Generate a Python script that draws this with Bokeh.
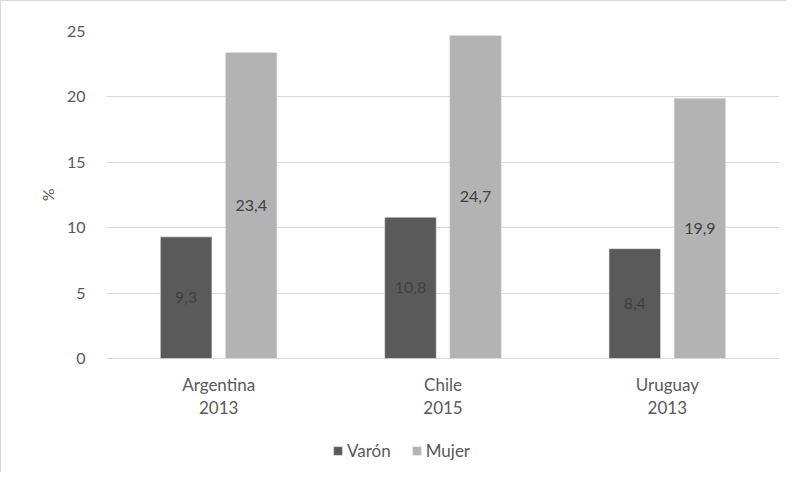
from bokeh.plotting import figure
from bokeh.models import ColumnDataSource, FactorRange, Range1d, Legend, LegendItem, FixedTicker, Title
from bokeh.transform import dodge
from bokeh.core.properties import value
from bokeh.embed import file_html
from bokeh.resources import INLINE

countries = ["Argentina", "Chile", "Uruguay"]
years = ["2013", "2015", "2013"]
varon = [9.3, 10.8, 8.4]
mujer = [23.4, 24.7, 19.9]
series_names = ["Varón", "Mujer"]
y_ticks = [0, 5, 10, 15, 20, 25]
y_title = "%"

FONT = "Lato"
FS = "16px"
FS_L = "17px"
C_V = "#5a5a5a"
C_M = "#b3b3b3"
TXT = "#595959"

src = ColumnDataSource(dict(
    x=countries,
    year=years,
    varon=varon,
    mujer=mujer,
    varon_half=[v / 2 for v in varon],
    mujer_half=[v / 2 for v in mujer],
    varon_lbl=[f"{v:.1f}".replace(".", ",") for v in varon],
    mujer_lbl=[f"{v:.1f}".replace(".", ",") for v in mujer],
))

# frame extends below the zero line so that category labels and legend sit inside it
p = figure(width=786, height=472, x_range=FactorRange(*countries, range_padding=0),
           y_range=Range1d(-8.79, 25), output_backend="svg", toolbar_location=None,
           min_border_left=105, min_border_right=8, min_border_top=30, min_border_bottom=0)
p.styles = {"border-left": "1px solid #d9d9d9", "border-top": "1px solid #d9d9d9"}
p.outline_line_color = None
p.background_fill_color = "white"
p.border_fill_color = "white"

rv = p.vbar(x=dodge("x", -0.145, range=p.x_range), top="varon", width=0.23, source=src,
            fill_color=C_V, line_color="#e8e8e8", line_width=0.6)
rm = p.vbar(x=dodge("x", 0.145, range=p.x_range), top="mujer", width=0.23, source=src,
            fill_color=C_M, line_color="#e8e8e8", line_width=0.6)

p.text(x=dodge("x", -0.145, range=p.x_range), y="varon_half", text="varon_lbl", source=src,
       text_align="center", text_baseline="middle", text_color="#404040",
       text_font=value(FONT), text_font_size=FS)
p.text(x=dodge("x", 0.145, range=p.x_range), y="mujer_half", text="mujer_lbl", source=src,
       text_align="center", text_baseline="middle", text_color="#404040",
       text_font=value(FONT), text_font_size=FS)

# category labels (two lines) under the zero line
p.text(x="x", y=-1.95, text="x", source=src, text_align="center", text_baseline="middle",
       text_color=TXT, text_font=value(FONT), text_font_size=FS_L)
p.text(x="x", y=-3.75, text="year", source=src, text_align="center", text_baseline="middle",
       text_color=TXT, text_font=value(FONT), text_font_size=FS_L)

# grid
p.xgrid.grid_line_color = None
p.ygrid.grid_line_color = "#d9d9d9"
p.ygrid.grid_line_width = 1
p.yaxis.ticker = FixedTicker(ticks=y_ticks)
p.xaxis.visible = False

# y axis
p.yaxis.axis_line_color = None
p.yaxis.major_tick_line_color = None
p.yaxis.minor_tick_line_color = None
p.yaxis.major_label_text_font = FONT
p.yaxis.major_label_text_font_size = FS
p.yaxis.major_label_text_color = TXT
p.yaxis.major_label_standoff = 15

# y title "%" centred on the 0..25 span
t = Title(text=y_title, align="right", offset=157, standoff=14,
          text_font=FONT, text_font_size=FS, text_font_style="normal", text_color=TXT)
p.add_layout(t, "left")

legend = Legend(items=[LegendItem(label=series_names[0], renderers=[rv]),
                       LegendItem(label=series_names[1], renderers=[rm])],
                location=(226, 12), orientation="horizontal")
legend.border_line_color = None
legend.background_fill_alpha = 0
legend.padding = 0
legend.margin = 0
legend.glyph_width = 11
legend.glyph_height = 11
legend.label_standoff = 4
legend.spacing = 20
legend.label_text_font = FONT
legend.label_text_font_size = FS_L
legend.label_text_color = TXT
p.add_layout(legend, "center")

open("out.html", "w").write(file_html(p, INLINE))
